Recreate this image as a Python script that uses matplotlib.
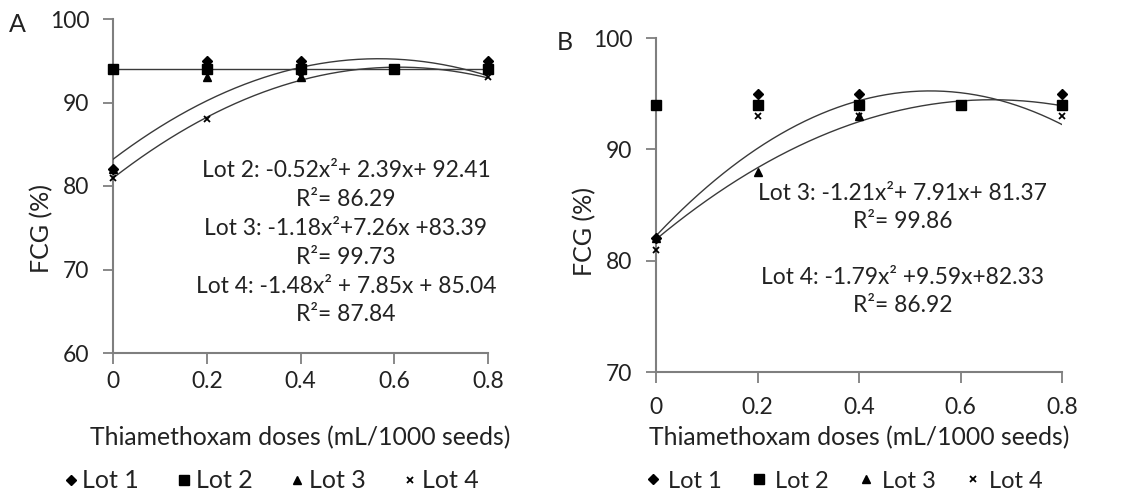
import numpy as np
import matplotlib
matplotlib.use("Agg")
import matplotlib.pyplot as plt
from matplotlib.lines import Line2D

plt.rcParams['font.family'] = ['Lato', 'DejaVu Sans']

# doses (mL/1000 seeds)
doses = [0, 0.2, 0.4, 0.6, 0.8]

# panel A - FCG (%)
a_lot1 = [82, 95, 95, 94, 95]
a_lot2 = [94, 94, 94, 94, 94]
a_lot3 = [82, 93, 93, 94, 94]
a_lot4 = [81, 88, 93, 94, 93]

# panel B - FCG (%)
b_lot1 = [82, 95, 95, 94, 95]
b_lot2 = [94, 94, 94, 94, 94]
b_lot3 = [82, 88, 93, 94, 94]
b_lot4 = [81, 93, 93, 94, 93]

lot_names = ["Lot 1", "Lot 2", "Lot 3", "Lot 4"]

a_eqs = ["Lot 2: -0.52x\u00b2+ 2.39x+ 92.41", "R\u00b2= 86.29",
         "Lot 3: -1.18x\u00b2+7.26x +83.39", "R\u00b2= 99.73",
         "Lot 4: -1.48x\u00b2 + 7.85x + 85.04", "R\u00b2= 87.84"]
b_eqs = ["Lot 3: -1.21x\u00b2+ 7.91x+ 81.37", "R\u00b2= 99.86",
         "", "Lot 4: -1.79x\u00b2 +9.59x+82.33", "R\u00b2= 86.92"]

W, H = 1134, 495
fig = plt.figure(figsize=(W / 100, H / 100), dpi=100)

def px_axes(l, t, r, b):
    return fig.add_axes([l / W, 1 - b / H, (r - l) / W, (b - t) / H])

axA = px_axes(113, 19, 488, 353)
axB = px_axes(656, 38, 1062, 372)

mk = dict(color='black', linestyle='none', clip_on=False, zorder=5)
styles = [dict(marker='D', ms=5), dict(marker='s', ms=6.5),
          dict(marker='^', ms=6), dict(marker='x', ms=5, mew=1.3)]

def trend(ax, y):
    coef = np.polyfit(doses, y, 2)
    xs = np.linspace(0, 0.8, 200)
    ax.plot(xs, np.polyval(coef, xs), color='#3a3a3a', lw=1.0, zorder=3)

def setup(ax, ylim, yticks, xpad):
    ax.set_xlim(0, 0.8)
    ax.set_ylim(*ylim)
    ax.set_yticks(yticks)
    ax.set_xticks(doses)
    ax.set_xticklabels(["0", "0.2", "0.4", "0.6", "0.8"])
    for s in ['top', 'right']:
        ax.spines[s].set_visible(False)
    for s in ['left', 'bottom']:
        ax.spines[s].set_color('#7f7f7f')
        ax.spines[s].set_linewidth(1.5)
    ax.tick_params(axis='y', direction='out', length=7, width=1.3, color='#7f7f7f',
                   pad=10, labelsize=16.5, labelcolor='#222222')
    ax.tick_params(axis='x', direction='out', length=8, width=1.3, color='#7f7f7f',
                   pad=xpad, labelsize=16.5, labelcolor='#222222')

# panel A
trend(axA, a_lot2)
trend(axA, a_lot3)
trend(axA, a_lot4)
for ys, st in zip([a_lot1, a_lot3, a_lot4, a_lot2], [styles[0], styles[2], styles[3], styles[1]]):
    axA.plot(doses, ys, **mk, **st)
setup(axA, (60, 100), [60, 70, 80, 90, 100], 5)
axA.text(0.497, 73.2, "\n".join(a_eqs), ha='center', va='center',
         fontsize=16.4, linespacing=1.46, color='#222222')

# panel B
trend(axB, b_lot3)
trend(axB, b_lot4)
for ys, st in zip([b_lot1, b_lot3, b_lot4, b_lot2], [styles[0], styles[2], styles[3], styles[1]]):
    axB.plot(doses, ys, **mk, **st)
setup(axB, (70, 100), [70, 80, 90, 100], 10)
axB.text(0.486, 81.0, "\n".join(b_eqs), ha='center', va='center',
         fontsize=16.4, linespacing=1.4, color='#222222')

# labels
fig.text(42 / W, 1 - 228 / H, "FCG (%)", rotation=90, ha='center', va='center',
         fontsize=18, color='#222222')
fig.text(585 / W, 1 - 231 / H, "FCG (%)", rotation=90, ha='center', va='center',
         fontsize=18, color='#222222')
fig.text(300 / W, 1 - 438 / H, "Thiamethoxam doses (mL/1000 seeds)", ha='center',
         va='center', fontsize=17.8, color='#222222')
fig.text(859 / W, 1 - 438 / H, "Thiamethoxam doses (mL/1000 seeds)", ha='center',
         va='center', fontsize=17.8, color='#222222')
fig.text(17 / W, 1 - 25 / H, "A", ha='center', va='center', fontsize=18, color='#222222')
fig.text(565 / W, 1 - 42 / H, "B", ha='center', va='center', fontsize=18, color='#222222')

handles = [Line2D([], [], color='black', linestyle='none', **st) for st in styles]
for cx, cy, fs, tp, cs in [(272, 481, 18, 0.25, 1.56), (845, 481, 17, 0.45, 1.35)]:
    fig.legend(handles, lot_names, loc='center', bbox_to_anchor=(cx / W, 1 - cy / H),
               ncol=4, frameon=False, fontsize=fs, handlelength=0.45, handletextpad=tp,
               columnspacing=cs, borderpad=0, borderaxespad=0, labelcolor='#222222')

fig.savefig("out.png", dpi=100)
